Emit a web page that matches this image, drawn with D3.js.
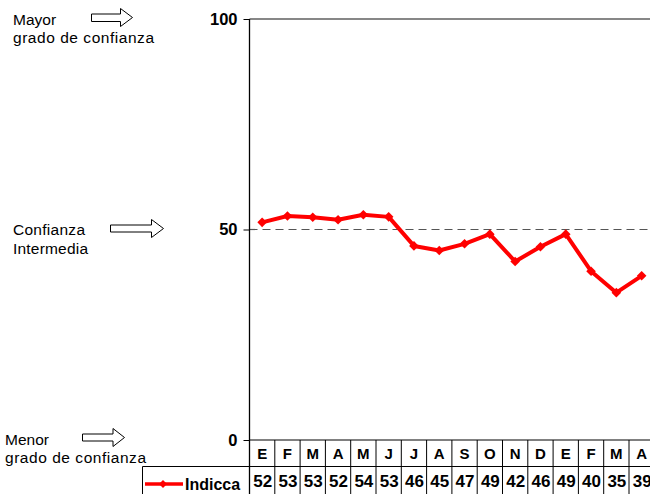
<!DOCTYPE html>
<html>
<head>
<meta charset="utf-8">
<script src="https://cdn.jsdelivr.net/npm/d3@7"></script>
<style>
  html, body { margin: 0; padding: 0; background: #fff; overflow: hidden; }
  svg { display: block; font-family: "Liberation Sans", Arial, sans-serif; }
</style>
</head>
<body>
<svg id="chart" width="650" height="494"></svg>
<script>
// ---- data ----
const months = ["E","F","M","A","M","J","J","A","S","O","N","D","E","F","M","A"];
const indicca = [51.7, 53.2, 52.9, 52.3, 53.5, 53.0, 46.1, 45.0, 46.6, 48.9, 42.4, 45.9, 48.9, 40.1, 35.0, 39.0];
const tableLabels = ["52","53","53","52","54","53","46","45","47","49","42","46","49","40","35","39"];
const yTicks = [0, 50, 100];
const seriesName = "Indicca";

// ---- layout ----
const svg = d3.select("#chart");
const plotLeft = 249.5, plotTop = 19, plotBottom = 440;
const band = 25.3;
const x = d3.scaleBand().domain(d3.range(months.length)).range([plotLeft, plotLeft + band * months.length]).padding(0);
const y = d3.scaleLinear().domain([0, 100]).range([plotBottom, plotTop]);

// reference lines
svg.append("line").attr("x1", plotLeft).attr("x2", 650).attr("y1", y(100)).attr("y2", y(100))
  .attr("stroke", "#111").attr("stroke-width", 1.2);
svg.append("line").attr("x1", plotLeft).attr("x2", 650).attr("y1", y(100) + 0.5).attr("y2", y(100) + 0.5)
  .attr("stroke", "#888").attr("stroke-width", 0.8).attr("stroke-dasharray", "8,5");
svg.append("line").attr("x1", plotLeft).attr("x2", 650).attr("y1", y(50)).attr("y2", y(50))
  .attr("stroke", "#555").attr("stroke-width", 1.2).attr("stroke-dasharray", "8,5");

// y axis
const yAxis = d3.axisLeft(y).tickValues(yTicks).tickSize(6).tickPadding(6).tickFormat(d3.format("d"));
const ya = svg.append("g").attr("transform", `translate(${plotLeft},0)`).call(yAxis);
ya.select(".domain").remove();
ya.selectAll(".tick line").attr("stroke", "#000").attr("stroke-width", 1);
ya.selectAll(".tick text").attr("font-size", 16.5).attr("font-weight", "bold").attr("fill", "#000")
  .attr("font-family", "Liberation Sans, Arial, sans-serif");
// vertical axis line extends through table
svg.append("line").attr("x1", plotLeft).attr("x2", plotLeft).attr("y1", plotTop).attr("y2", 494)
  .attr("stroke", "#000").attr("stroke-width", 1.3);

// ---- data table ----
const rowSep = 466.5;
const tableLeft = 142.5;
svg.append("line").attr("x1", plotLeft).attr("x2", 650).attr("y1", plotBottom).attr("y2", plotBottom)
  .attr("stroke", "#000").attr("stroke-width", 1);
svg.append("line").attr("x1", tableLeft).attr("x2", 650).attr("y1", rowSep).attr("y2", rowSep)
  .attr("stroke", "#000").attr("stroke-width", 1);
svg.append("line").attr("x1", tableLeft).attr("x2", tableLeft).attr("y1", rowSep).attr("y2", 494)
  .attr("stroke", "#000").attr("stroke-width", 1);
svg.append("g").selectAll("line").data(d3.range(1, months.length + 1)).join("line")
  .attr("x1", i => x(i - 1) + x.bandwidth()).attr("x2", i => x(i - 1) + x.bandwidth())
  .attr("y1", plotBottom).attr("y2", 494)
  .attr("stroke", "#000").attr("stroke-width", 1);
svg.append("g").selectAll("text").data(months).join("text")
  .attr("x", (d, i) => x(i) + x.bandwidth() / 2).attr("y", 459)
  .attr("text-anchor", "middle").attr("font-size", 15).attr("font-weight", "bold").text(d => d);
svg.append("g").selectAll("text").data(tableLabels).join("text")
  .attr("x", (d, i) => x(i) + x.bandwidth() / 2 + 0.5).attr("y", 487)
  .attr("text-anchor", "middle").attr("font-size", 17).attr("font-weight", "bold").text(d => d);
// legend key
const diamond = s => `M0,${-s} L${s},0 L0,${s} L${-s},0 Z`;
svg.append("line").attr("x1", 145).attr("x2", 183).attr("y1", 484).attr("y2", 484)
  .attr("stroke", "#ff0000").attr("stroke-width", 3.5);
svg.append("path").attr("d", diamond(4)).attr("transform", "translate(163,484)")
  .attr("fill", "#ff0000");
svg.append("text").attr("x", 185).attr("y", 490).attr("font-size", 16).attr("font-weight", "bold").text(seriesName);

// ---- series ----
const line = d3.line().x((d, i) => x(i) + x.bandwidth() / 2).y(d => y(d));
svg.append("path").datum(indicca).attr("d", line).attr("fill", "none")
  .attr("stroke", "#ff0000").attr("stroke-width", 4).attr("stroke-linejoin", "round");
svg.append("g").selectAll("path").data(indicca).join("path")
  .attr("d", diamond(4.8))
  .attr("transform", (d, i) => `translate(${x(i) + x.bandwidth() / 2},${y(d)})`)
  .attr("fill", "#ff0000");

// ---- left annotations ----
const notes = [
  { lines: [["Mayor", 13, 25, null], ["grado de confianza", 13, 43, 141]], arrow: [91.5, 120.5, 132.5, 17.5, 14, 21.5, 8.5, 26.5] },
  { lines: [["Confianza", 13, 235, 72], ["Intermedia", 13, 254, 75]], arrow: [110.5, 151.5, 163.5, 228.5, 225, 232, 219.5, 237.5] },
  { lines: [["Menor", 5, 445, null], ["grado de confianza", 5, 463, 141]], arrow: [82.5, 113, 124.5, 437.5, 434, 441, 428.5, 446.5] }
];
notes.forEach(n => {
  n.lines.forEach(([t, tx, ty, tl]) => {
    const el = svg.append("text").attr("x", tx).attr("y", ty).attr("font-size", 15.5).attr("fill", "#000").text(t);
    if (tl) el.attr("textLength", tl).attr("lengthAdjust", "spacing");
  });
  const [x0, xh, xt, cy, st, sb, ht, hb] = n.arrow;
  svg.append("path")
    .attr("d", `M${x0},${st} L${xh},${st} L${xh},${ht} L${xt},${cy} L${xh},${hb} L${xh},${sb} L${x0},${sb} Z`)
    .attr("fill", "#fff").attr("stroke", "#000").attr("stroke-width", 1);
});
</script>
</body>
</html>
